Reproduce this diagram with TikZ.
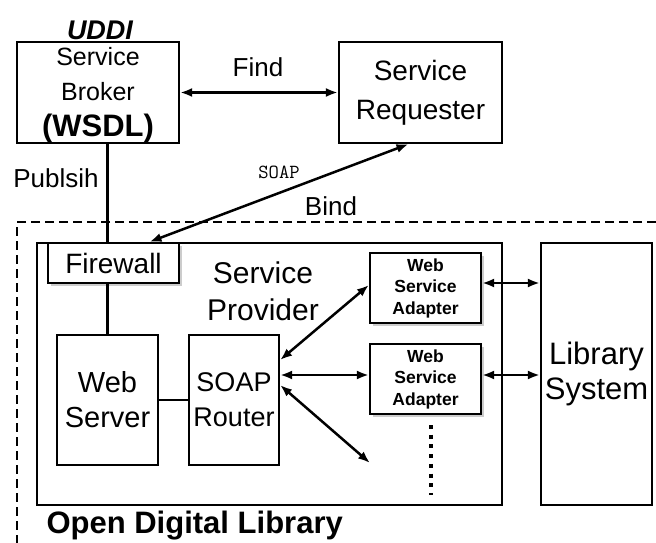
\documentclass[tikz,border=0pt]{standalone}
\usepackage{fontspec}
\setmainfont{Liberation Sans}
\usetikzlibrary{arrows.meta, shadows}
\newcommand{\setfs}[2]{\fontsize{#1}{#2}\selectfont}
\tikzset{box/.style = {draw, line width=2.2pt, rectangle, inner sep=0pt, align=center},
  shadowbox/.style = {box, fill=white, drop shadow={shadow xshift=2.5pt, shadow yshift=-2.5pt, fill=black!40}},
  adapter/.style = {shadowbox, minimum width=111pt, minimum height=70pt, font=\setfs{17.5}{21.5}\bfseries},
  link/.style = {line width=2.5pt, {Latex[length=12pt,width=9pt]}-{Latex[length=12pt,width=9pt]}},
  plain/.style = {line width=2.2pt}}

\begin{document}
\begin{tikzpicture}[x=1pt, y=-1pt]
\useasboundingbox (0,0) rectangle (656,543);
\draw [plain, dash pattern=on 9pt off 5pt] (656,222) -- (17,222) -- (17,543);
\node [font=\setfs{27}{30}\bfseries\itshape] (uddi) at (100,30) {UDDI};
\node [box, minimum width=162pt, minimum height=101pt] (broker) at (98,92.5) {};
\node [align=center, font=\setfs{25}{35}] (brokertext) at ([yshift=-3pt]broker.center)
  {Service\\Broker\\[1pt]{\setfs{31}{36}\bfseries (WSDL)}};
\node [box, minimum width=163pt, minimum height=101pt, font=\setfs{28}{39}] (requester) at (420.5,92.5) {Service\\Requester};
\node [box, minimum width=465pt, minimum height=262pt] (provider) at (269.5,374) {};
\node [box, minimum width=111pt, minimum height=262pt, font=\setfs{31}{35}] (library) at (596.5,374) {Library\\System};
\node [shadowbox, minimum width=131pt, minimum height=40pt, font=\setfs{28}{34}] (firewall) at (113.5,263) {Firewall};
\node [font=\setfs{30}{37}, align=center] (providerlabel) at (263,291) {Service\\Provider};
\node [box, minimum width=101pt, minimum height=130pt, font=\setfs{29}{35}] (server) at (107.5,400) {Web\\Server};
\node [box, minimum width=90pt, minimum height=130pt, font=\setfs{27}{35}] (router) at (234,400) {SOAP\\Router};
\node [adapter] (adapter1) at (425.5,288) {Web\\Service\\Adapter};
\node [adapter] (adapter2) at (425.5,379) {Web\\Service\\Adapter};
\node [font=\setfs{26}{30}] (find) at (258,67) {Find};
\node [font=\setfs{26}{30}] (publish) at (56,178.5) {Publsih};
\node [font=\setfs{20}{24}\ttfamily] (soap) at (279,172) {SOAP};
\node [font=\setfs{26}{30}] (bind) at (331,206.5) {Bind};
\node [anchor=base west, font=\setfs{31}{36}\bfseries] (odl) at (43,533) {Open Digital Library};
\coordinate (more) at (370,463);
\coordinate (dotstop) at (431,425);
\coordinate (dotsbottom) at (431,495);
% connectors
\draw [link] (broker) -- (requester);
\draw [link] ([xshift=36pt]firewall.north) -- ([xshift=-12pt]requester.south);
\draw [plain] (broker.south -| server.north) -- (firewall.north -| server.north);
\draw [plain] (firewall.south -| server.north) -- (server.north);
\draw [plain] (server) -- (router);
\draw [link] ([yshift=40pt]router.east) -- ([yshift=3pt]adapter1.west);
\draw [link] ([yshift=25pt]router.east) -- ([yshift=25pt]router.east -| adapter2.west);
\draw [link] ([yshift=15pt]router.east) -- (more);
\draw [link] ([yshift=5pt]adapter1.east) -- ([yshift=5pt]adapter1.east -| library.west);
\draw [link] ([yshift=4pt]adapter2.east) -- ([yshift=4pt]adapter2.east -| library.west);
\draw [line width=4pt, dash pattern=on 4pt off 5.7pt] (dotstop) -- (dotsbottom);
\end{tikzpicture}
\end{document}
